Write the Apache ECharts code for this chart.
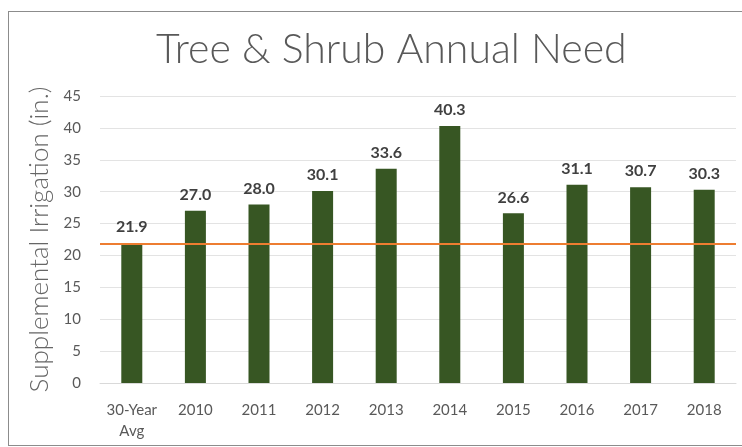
<!DOCTYPE html>
<html lang="en">
<head>
    <meta charset="UTF-8">
    <title>Tree & Shrub Annual Need</title>
    <script src="https://cdn.jsdelivr.net/npm/echarts@6/dist/echarts.min.js"></script>
    <style>
        html, body { margin: 0; padding: 0; background: #fff; }
        #wrap { position: relative; width: 742px; height: 447px; overflow: hidden; }
        #chart { width: 742px; height: 447px; }
        #frame {
            position: absolute; left: 8px; top: 11px; width: 760px; height: 433px;
            border: 1px solid #8c8c8c; border-right: none; pointer-events: none;
        }
    </style>
</head>
<body>
<div id="wrap">
    <div id="chart"></div>
    <div id="frame"></div>
</div>
<script>
    // 数据
    var categories = ['30-Year\nAvg', '2010', '2011', '2012', '2013', '2014', '2015', '2016', '2017', '2018'];
    var needValues = [21.9, 27.0, 28.0, 30.1, 33.6, 40.3, 26.6, 31.1, 30.7, 30.3];
    var avgValue = 21.9;
    var yTicks = { min: 0, max: 45, step: 5 };

    var myChart = echarts.init(document.getElementById('chart'));
    var option = {
        animation: false,
        title: {
            text: 'Tree & Shrub Annual Need',
            left: 151,
            top: 24,
            textStyle: {
                fontFamily: 'Lato',
                fontWeight: 300,
                fontSize: 41,
                color: '#595959'
            }
        },
        grid: { left: 100, right: 6, top: 96, bottom: 64 },
        xAxis: {
            type: 'category',
            data: categories,
            axisTick: { show: false },
            axisLine: { lineStyle: { color: '#d9d9d9' } },
            axisLabel: {
                interval: 0,
                color: '#595959',
                fontFamily: 'Lato',
                fontSize: 15,
                lineHeight: 21,
                margin: 17
            }
        },
        yAxis: {
            type: 'value',
            min: yTicks.min,
            max: yTicks.max,
            interval: yTicks.step,
            name: 'Supplemental Irrigation (in.)',
            nameLocation: 'middle',
            nameGap: 46,
            nameTextStyle: {
                fontFamily: 'Lato',
                fontWeight: 300,
                fontSize: 26,
                color: '#666666'
            },
            axisLabel: {
                color: '#595959',
                fontFamily: 'Lato',
                fontSize: 15,
                margin: 19
            },
            splitLine: { lineStyle: { color: '#e3e3e3' } }
        },
        series: [
            {
                type: 'bar',
                data: needValues,
                barWidth: 21,
                itemStyle: { color: '#375623' },
                label: {
                    show: true,
                    position: 'top',
                    distance: 8,
                    formatter: function (p) { return p.value.toFixed(1); },
                    fontFamily: 'Lato',
                    fontWeight: 'bold',
                    fontSize: 16,
                    color: '#404040'
                },
                markLine: {
                    silent: true,
                    symbol: 'none',
                    label: { show: false },
                    lineStyle: { color: '#ed7d31', width: 2, type: 'solid' },
                    data: [{ yAxis: avgValue }]
                }
            }
        ]
    };
    myChart.setOption(option);
</script>
</body>
</html>
